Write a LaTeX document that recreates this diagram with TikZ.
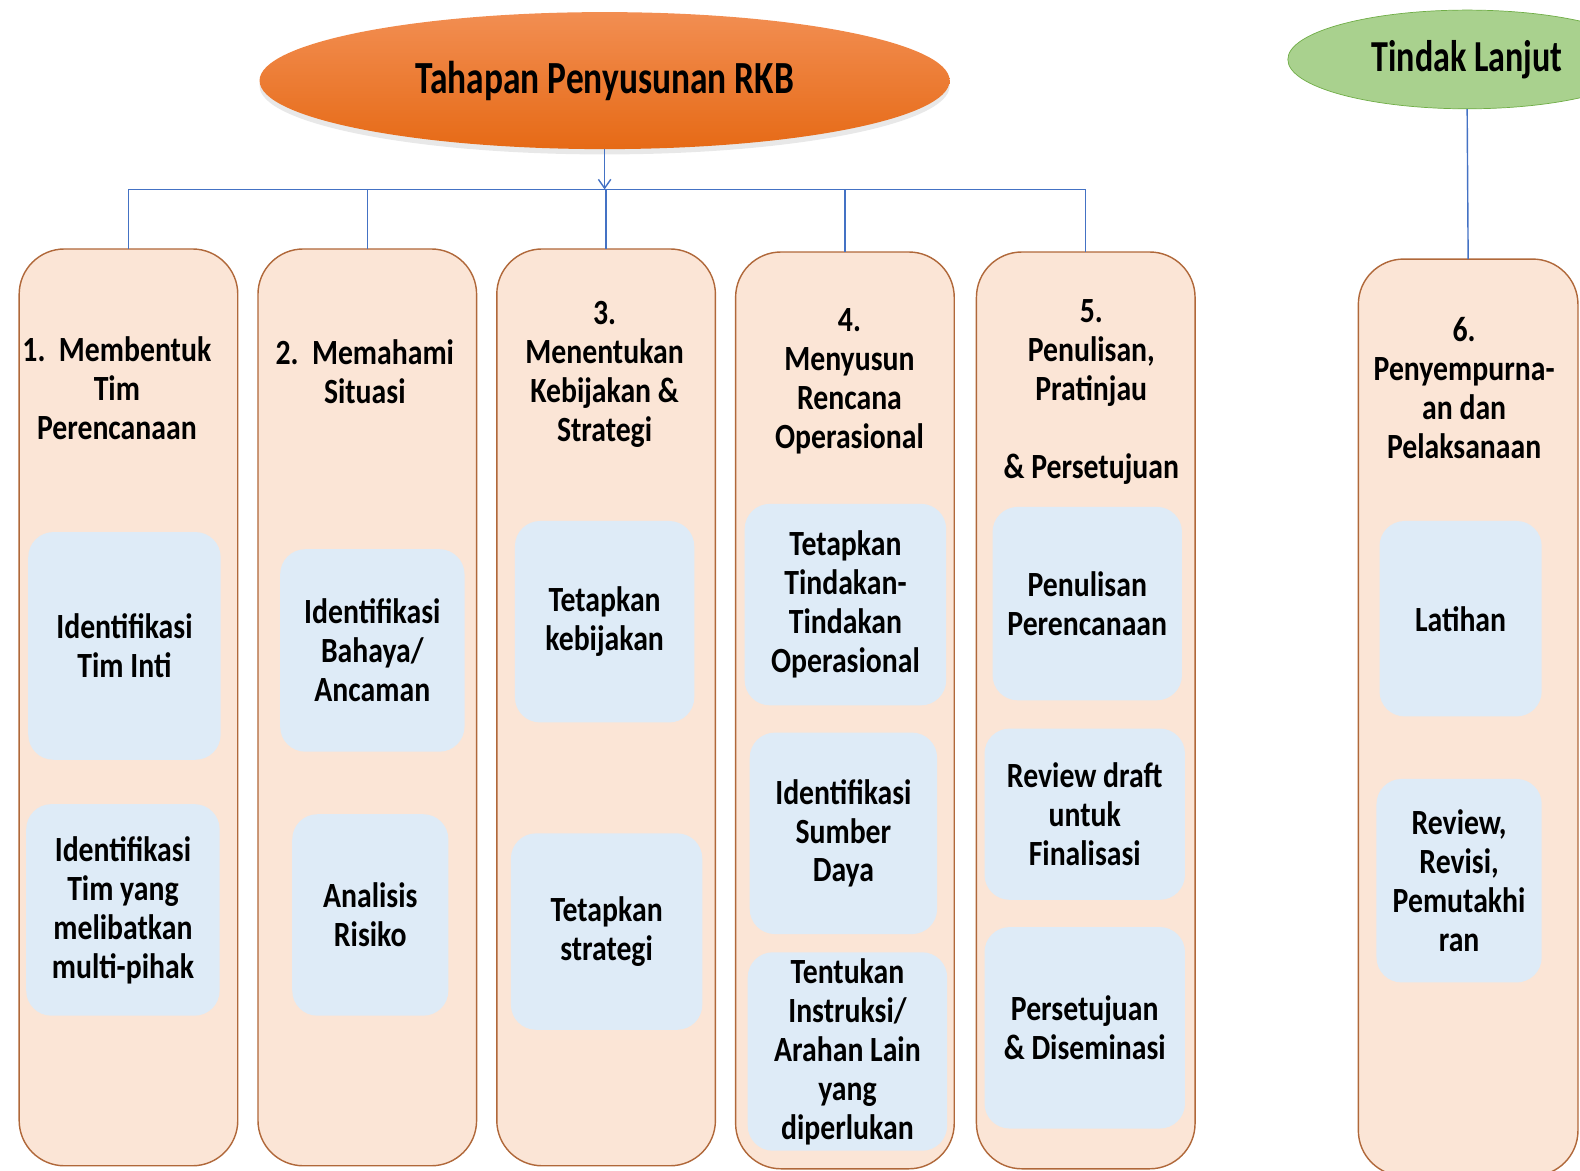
\documentclass[tikz,border=0pt]{standalone}
\usepackage{fontspec}
\setmainfont{Carlito}[FakeStretch=0.84]
\newfontfamily\ttlfont{Carlito}[FakeStretch=0.77]
\usetikzlibrary{shapes.geometric, arrows.meta, positioning, shadows}
\definecolor{peach}{HTML}{FBE5D6}
\definecolor{peachline}{HTML}{B0683A}
\definecolor{subblue}{HTML}{DEEBF7}
\definecolor{linkblue}{HTML}{4472C4}
\definecolor{orgtop}{HTML}{F28E52}
\definecolor{orgbot}{HTML}{E66A16}
\definecolor{grnfill}{HTML}{A9D18E}
\definecolor{grnline}{HTML}{70AD47}

\begin{document}
\begin{tikzpicture}[x=0.02cm, y=-0.02cm,
    col/.style={draw=peachline, fill=peach, line width=0.8pt, rounded corners=0.9cm, minimum width=4.34cm, minimum height=18.2cm, inner sep=0pt, outer sep=0pt},
    sub/.style={fill=subblue, rounded corners=0.5cm, align=center, inner sep=2pt, font=\bfseries\fontsize{20}{22}\selectfont},
    ttl/.style={align=center, inner sep=0pt, font=\bfseries\fontsize{20}{22}\selectfont},
    link/.style={draw=linkblue, line width=0.8pt},
    arr/.style={link, -{Straight Barb[length=5pt, width=7pt]}}]
    \useasboundingbox (0,0) rectangle (1568,1162);
    \clip (0,0) rectangle (1568,1162);
    % kepala
    \node[ellipse, top color=orgtop, bottom color=orgbot, minimum width=13.7cm, minimum height=2.72cm,
          drop shadow={shadow xshift=0pt, shadow yshift=-3pt, opacity=0.18},
          font=\ttlfont\bfseries\fontsize{26}{28}\selectfont] (main) at (600,80) {Tahapan Penyusunan RKB};
    \node[ellipse, draw=grnline, fill=grnfill, minimum width=7.12cm, minimum height=1.96cm,
          font=\ttlfont\bfseries\fontsize{25}{27}\selectfont] (lanjut) at (1456,59) {Tindak Lanjut};
    % kolom tahapan
    \node[col] (c1) at (127.5,702) {};
    \node[col] (c2) at (364.5,702) {};
    \node[col] (c3) at (601.5,702) {};
    \node[col] (c4) at (838.5,705) {};
    \node[col] (c5) at (1077.5,705) {};
    \node[col, minimum width=4.36cm] (c6) at (1457,712) {};
    \node[ttl] (t1) at (116,385) {1.\ \ Membentuk\\Tim\\Perencanaan};
    \node[ttl] (t2) at (362,368.5) {2.\ \ Memahami\\Situasi};
    \node[ttl] (t3) at (600,371.5) {3.\\Menentukan\\Kebijakan \&\\Strategi};
    \node[ttl] (t4) at (843,378) {4.\\Menyusun\\Rencana\\Operasional};
    \node[ttl] (t5) at (1083,389) {5.\\Penulisan,\\Pratinjau\\\mbox{}\\\& Persetujuan};
    \node[ttl] (t6) at (1453,385) {6.\\Penyempurna-\\an dan\\Pelaksanaan};
    % isi
    \node[sub, minimum width=3.82cm, minimum height=4.52cm] (s1a) at (123.5,641) {Identifikasi\\Tim Inti};
    \node[sub, minimum width=3.84cm, minimum height=4.2cm] (s1b) at (122,903) {Identifikasi\\Tim yang\\melibatkan\\multi-pihak};
    \node[sub, minimum width=3.66cm, minimum height=4.02cm] (s2a) at (369.5,645.5) {Identifikasi\\Bahaya/\\Ancaman};
    \node[sub, minimum width=3.1cm, minimum height=4.0cm] (s2b) at (367.5,908) {Analisis\\Risiko};
    \node[sub, minimum width=3.56cm, minimum height=4.0cm] (s3a) at (600,617) {Tetapkan\\kebijakan};
    \node[sub, minimum width=3.8cm, minimum height=3.9cm] (s3b) at (602,924.5) {Tetapkan\\strategi};
    \node[sub, minimum width=4.0cm, minimum height=4.0cm] (s4a) at (839,600) {Tetapkan\\Tindakan-\\Tindakan\\Operasional};
    \node[sub, minimum width=3.72cm, minimum height=4.0cm] (s4b) at (837,827) {Identifikasi\\Sumber\\Daya};
    \node[sub, minimum width=3.96cm, minimum height=3.94cm] (s4c) at (841,1043.5) {Tentukan\\Instruksi/\\Arahan Lain\\yang\\diperlukan};
    \node[sub, minimum width=3.76cm, minimum height=3.84cm] (s5a) at (1079,599) {Penulisan\\Perencanaan};
    \node[sub, minimum width=3.98cm, minimum height=3.4cm] (s5b) at (1076.5,808) {Review draft\\untuk\\Finalisasi};
    \node[sub, minimum width=3.98cm, minimum height=4.0cm] (s5c) at (1076.5,1020) {Persetujuan\\\& Diseminasi};
    \node[sub, minimum width=3.22cm, minimum height=3.88cm] (s6a) at (1449.5,614) {Latihan};
    \node[sub, minimum width=3.28cm, minimum height=4.04cm] (s6b) at (1448,874) {Review,\\Revisi,\\Pemutakhi\\ran};
    % penghubung
    \coordinate (bus) at (600,188);
    \draw[arr] (main.south) -- (bus);
    \draw[link] (c1.north |- bus) -- (c5.north |- bus);
    \foreach \c in {c1,c2,c3,c4,c5}
      \draw[link] (\c.north |- bus) -- (\c.north);
    \draw[link] (lanjut.south) -- (c6.north);
\end{tikzpicture}
\end{document}
